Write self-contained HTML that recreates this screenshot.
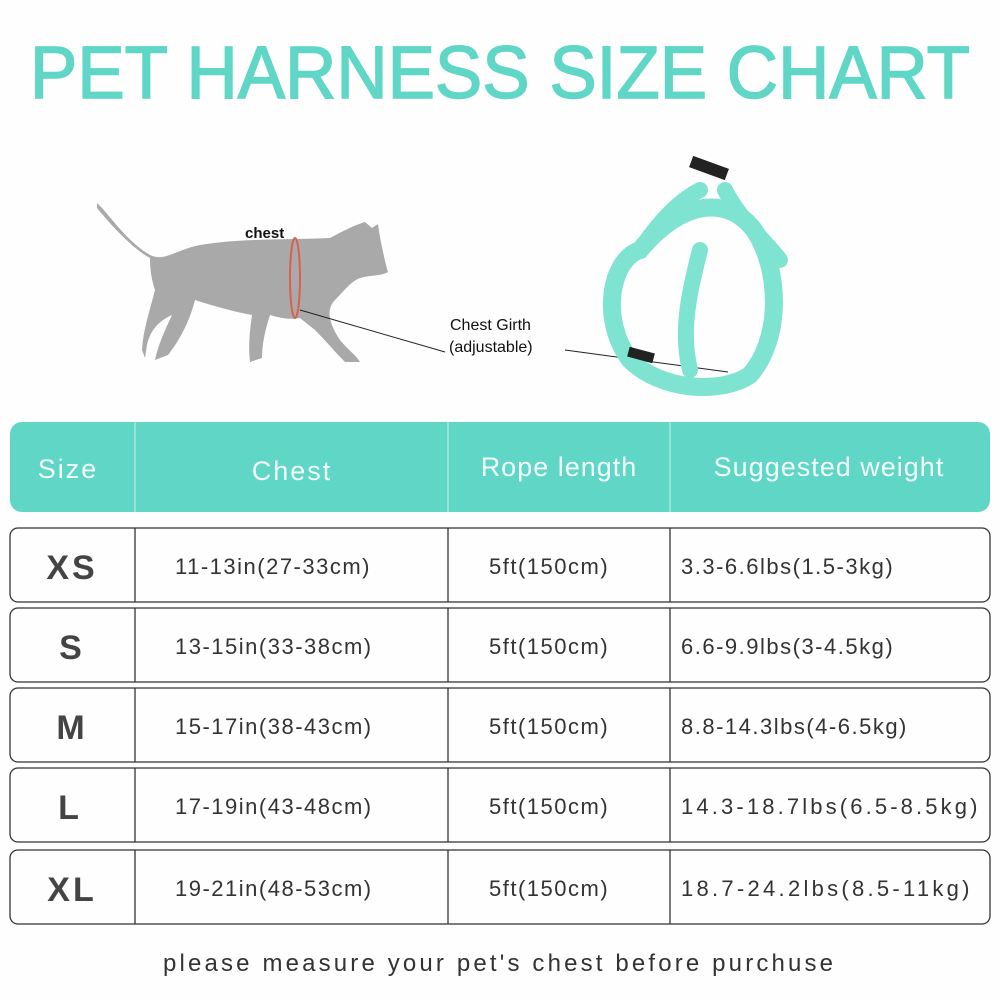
<!DOCTYPE html>
<html><head><meta charset="utf-8"><style>html,body{margin:0;padding:0;background:#fff}svg{display:block}</style></head>
<body>
<svg width="1000" height="1000" viewBox="0 0 1000 1000" xmlns="http://www.w3.org/2000/svg" font-family="Liberation Sans, sans-serif">
<rect width="1000" height="1000" fill="#fefefe"/>
<text x="30" y="98" font-size="74" fill="#5fd6c6" stroke="#5fd6c6" stroke-width="1.5" textLength="940" lengthAdjust="spacingAndGlyphs">PET HARNESS SIZE CHART</text>
<!-- cat -->
<g fill="#a9a9a9">
<path d="M97,203 C110,215 125,240 150,255 C165,262 175,250 200,245 C240,238 290,240 330,238 C345,230 355,225 365,222 L372,228 378,224 C380,240 385,262 388,272 C382,276 370,275 360,278 C350,282 345,290 335,300 C325,310 330,325 340,340 C348,350 356,355 360,362 L345,362 C335,352 325,340 315,330 L300,318 C290,320 280,318 270,315 C265,330 262,345 262,358 L250,362 C248,345 250,330 252,315 C235,312 210,305 195,300 C190,320 180,340 168,355 L155,360 C158,345 165,330 172,315 C160,320 150,330 147,345 L145,358 142,350 C143,330 150,310 155,290 C150,275 150,262 150,258 C135,250 115,230 97,208 Z"/>
</g>
<ellipse cx="295" cy="278" rx="5" ry="40" fill="none" stroke="#d9604f" stroke-width="2"/>
<text x="245" y="238" font-size="15" font-weight="bold" fill="#111">chest</text>
<line x1="300" y1="310" x2="445" y2="352" stroke="#222" stroke-width="1"/>
<text x="450" y="330" font-size="16" fill="#111">Chest Girth</text>
<text x="449" y="352" font-size="16" fill="#111">(adjustable)</text>
<line x1="565" y1="350" x2="728" y2="372" stroke="#222" stroke-width="1"/>
<!-- harness -->
<g fill="none" stroke="#7fe3d2" stroke-linecap="round">
<path d="M640,250 C610,260 600,320 630,360 C660,390 720,395 750,375 C780,340 780,280 760,240 C740,200 690,190 640,250 Z" stroke-width="18"/>
<path d="M640,250 C660,220 680,200 700,190" stroke-width="16"/>
<path d="M725,190 C740,220 765,240 780,260" stroke-width="16"/>
<path d="M700,250 C690,290 680,330 690,370" stroke-width="16"/>
</g>
<rect x="690" y="162" width="38" height="12" fill="#222" transform="rotate(20 709 168)"/>
<rect x="628" y="350" width="26" height="10" fill="#222" transform="rotate(15 641 355)"/>
<!-- header -->
<rect x="10" y="422" width="980" height="90" rx="12" fill="#5fd6c6"/>
<g stroke="#a6e9df" stroke-width="1.5"><line x1="135" y1="422" x2="135" y2="512"/><line x1="448" y1="422" x2="448" y2="512"/><line x1="670" y1="422" x2="670" y2="512"/></g>
<g fill="#f4fffd" font-size="27" text-anchor="middle" letter-spacing="2">
<text x="68" y="478">Size</text><text x="292" y="480">Chest</text><text x="559" y="476" letter-spacing="1">Rope length</text><text x="829" y="476" letter-spacing="1">Suggested weight</text>
</g>
<g fill="none" stroke="#333" stroke-width="1.3">
<rect x="10" y="528" width="980" height="74" rx="8"/>
<rect x="10" y="608" width="980" height="74" rx="8"/>
<rect x="10" y="688" width="980" height="74" rx="8"/>
<rect x="10" y="768" width="980" height="74" rx="8"/>
<rect x="10" y="850" width="980" height="74" rx="8"/>
<path d="M135,528V602M448,528V602M670,528V602M135,608V682M448,608V682M670,608V682M135,688V762M448,688V762M670,688V762M135,768V842M448,768V842M670,768V842M135,850V924M448,850V924M670,850V924"/>
</g>
<g fill="#444" font-size="34" font-weight="bold" text-anchor="middle" letter-spacing="3">
<text x="72" y="579">XS</text><text x="72" y="659">S</text><text x="72" y="739">M</text><text x="70" y="819">L</text><text x="72" y="901">XL</text>
</g>
<g fill="#333" font-size="22" letter-spacing="1.5">
<text x="175" y="574">11-13in(27-33cm)</text><text x="175" y="654">13-15in(33-38cm)</text><text x="175" y="734">15-17in(38-43cm)</text><text x="175" y="814">17-19in(43-48cm)</text><text x="175" y="896">19-21in(48-53cm)</text>
<text x="489" y="574">5ft(150cm)</text><text x="489" y="654">5ft(150cm)</text><text x="489" y="734">5ft(150cm)</text><text x="489" y="814">5ft(150cm)</text><text x="489" y="896">5ft(150cm)</text>
<text x="681" y="574">3.3-6.6lbs(1.5-3kg)</text><text x="681" y="654">6.6-9.9lbs(3-4.5kg)</text><text x="681" y="734">8.8-14.3lbs(4-6.5kg)</text><text x="681" y="814" textLength="298">14.3-18.7lbs(6.5-8.5kg)</text><text x="681" y="896" textLength="290">18.7-24.2lbs(8.5-11kg)</text>
</g>
<text x="163" y="971" font-size="24" fill="#333" textLength="670" lengthAdjust="spacing">please measure your pet's chest before purchuse</text>
</svg>
</body></html>
